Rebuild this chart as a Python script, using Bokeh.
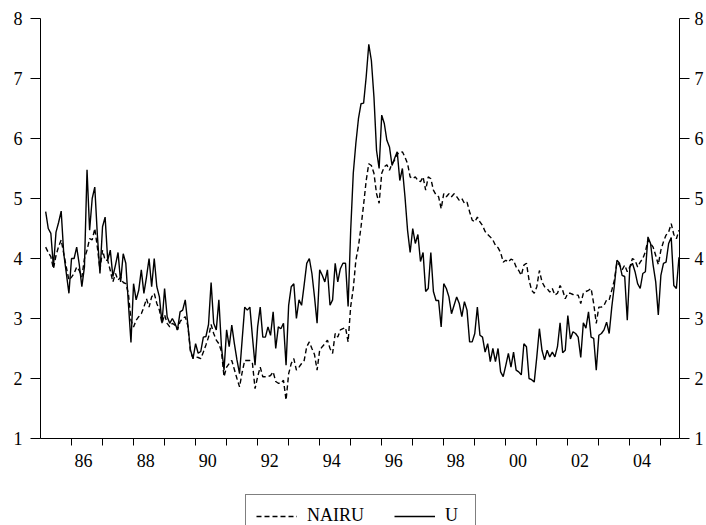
from bokeh.plotting import figure
from bokeh.layouts import column
from bokeh.models import Range1d, FixedTicker, LinearAxis, Legend, LegendItem, ColumnDataSource
from bokeh.embed import file_html
from bokeh.resources import INLINE

# ---- data (monthly, starting March 1985) ----
start_year = 1985
start_month = 3

u = [4.78, 4.5, 4.42, 3.86, 4.44, 4.6, 4.79, 4.08, 3.75, 3.42,
     4.0, 4.0, 4.19, 3.9, 3.53, 3.86, 5.48, 4.47, 5.0, 5.19,
     4.39, 3.75, 4.53, 4.69, 3.97, 4.14, 3.7, 3.89, 4.1, 3.61,
     4.08, 3.92, 3.25, 2.6, 3.58, 3.31, 3.47, 3.81, 3.42, 3.69,
     4.0, 3.53, 4.0, 3.53, 3.36, 2.92, 3.5, 3.03, 2.92, 3.0,
     2.92, 2.81, 3.11, 3.14, 3.31, 2.9, 2.48, 2.33, 2.58, 2.42,
     2.45, 2.69, 2.7, 2.9, 3.6, 2.92, 2.81, 3.31, 2.53, 2.14,
     2.81, 2.53, 2.89, 2.58, 2.31, 2.08, 2.64, 3.19, 3.14, 3.19,
     2.69, 2.22, 2.86, 3.19, 2.69, 2.69, 2.86, 2.72, 3.11, 2.5,
     2.86, 2.83, 2.92, 2.22, 3.22, 3.53, 3.58, 3.0, 3.31, 3.22,
     3.56, 3.92, 4.0, 3.75, 3.36, 2.92, 3.81, 3.72, 3.61, 3.81,
     3.22, 3.31, 3.92, 3.61, 3.83, 3.92, 3.92, 3.2, 4.47, 5.42,
     5.92, 6.33, 6.58, 6.59, 7.03, 7.57, 7.3, 6.69, 5.8, 5.5,
     6.39, 6.25, 5.97, 5.86, 5.55, 5.67, 5.78, 5.3, 5.5, 5.03,
     4.47, 4.1, 4.5, 4.25, 4.4, 3.95, 4.1, 3.45, 3.5, 4.1,
     3.45, 3.3, 3.3, 2.86, 3.58, 3.5, 3.36, 3.08, 3.22, 3.36,
     3.25, 3.03, 3.28, 3.14, 2.61, 2.61, 2.75, 3.19, 2.72, 2.69,
     2.44, 2.58, 2.28, 2.5, 2.28, 2.5, 2.11, 2.03, 2.22, 2.42,
     2.19, 2.44, 2.14, 2.11, 2.06, 2.58, 2.53, 2.0, 1.98, 1.94,
     2.36, 2.83, 2.47, 2.31, 2.47, 2.36, 2.44, 2.36, 2.53, 2.93,
     2.43, 2.47, 3.05, 2.66, 2.78, 2.75, 2.69, 2.35, 2.93, 2.84,
     3.11, 2.69, 2.67, 2.14, 2.72, 2.75, 2.81, 2.94, 2.75, 3.19,
     3.55, 3.97, 3.92, 3.72, 3.7, 2.97, 3.86, 3.92, 3.78, 3.58,
     3.5, 3.75, 3.78, 4.36, 4.25, 3.89, 3.61, 3.06, 3.72, 3.92,
     3.94, 4.25, 4.35, 3.55, 3.5, 4.02]

nairu = [4.19, 4.1, 4.03, 3.83, 4.05, 4.2, 4.31, 4.08, 3.85, 3.64,
         3.69, 3.75, 3.86, 3.8, 3.69, 4.0, 4.14, 4.33, 4.31, 4.5,
         4.19, 3.81, 4.14, 3.97, 3.97, 3.8, 3.61, 3.75, 3.64, 3.69,
         3.6, 3.58, 3.42, 2.97, 2.86, 2.97, 3.03, 3.08, 3.19, 3.33,
         3.19, 3.36, 3.42, 3.25, 3.14, 2.92, 3.06, 2.92, 2.86, 2.92,
         2.89, 2.81, 2.95, 3.0, 3.03, 2.88, 2.45, 2.34, 2.36, 2.35,
         2.33, 2.44, 2.56, 2.69, 2.9, 2.75, 2.64, 2.58, 2.45, 2.03,
         2.19, 2.25, 2.3, 2.15, 2.0, 1.86, 2.1, 2.3, 2.3, 2.3,
         2.25, 1.83, 2.03, 2.19, 2.03, 2.03, 2.03, 2.05, 2.11, 1.95,
         1.92, 1.92, 1.97, 1.64, 2.08, 2.25, 2.33, 2.14, 2.19, 2.25,
         2.3, 2.53, 2.61, 2.5, 2.4, 2.14, 2.47, 2.53, 2.58, 2.64,
         2.5, 2.42, 2.75, 2.69, 2.81, 2.83, 2.85, 2.61, 3.2, 3.5,
         3.97, 4.2, 4.53, 4.9, 5.3, 5.58, 5.55, 5.42, 5.08, 4.92,
         5.42, 5.53, 5.56, 5.47, 5.58, 5.64, 5.75, 5.75, 5.78, 5.69,
         5.58, 5.36, 5.33, 5.36, 5.3, 5.28, 5.36, 5.14, 5.36, 5.33,
         5.14, 5.06, 5.03, 4.83, 5.08, 5.03, 5.08, 5.03, 5.08, 5.03,
         4.97, 5.0, 4.92, 4.94, 4.78, 4.64, 4.61, 4.69, 4.61, 4.55,
         4.45, 4.4, 4.36, 4.31, 4.22, 4.18, 4.1, 3.94, 3.97, 3.94,
         3.99, 3.97, 3.86, 3.8, 3.72, 3.89, 3.92, 3.64, 3.47, 3.42,
         3.53, 3.8, 3.61, 3.53, 3.5, 3.44, 3.5, 3.39, 3.42, 3.55,
         3.47, 3.33, 3.42, 3.42, 3.4, 3.39, 3.39, 3.25, 3.42, 3.45,
         3.47, 3.5, 3.25, 2.92, 3.19, 3.19, 3.22, 3.31, 3.31, 3.47,
         3.64, 3.94, 3.89, 3.81, 3.89, 3.78, 3.86, 4.0, 3.97, 3.86,
         3.94, 4.0, 4.11, 4.31, 4.25, 4.19, 4.05, 3.9, 4.14, 4.28,
         4.39, 4.44, 4.58, 4.4, 4.33, 4.47]

series_names = ["NAIRU", "U"]
year_ticks = list(range(1986, 2006))
label_years = [1986, 1988, 1990, 1992, 1994, 1996, 1998, 2000, 2002, 2004]
label_texts = ["86", "88", "90", "92", "94", "96", "98", "00", "02", "04"]
y_ticks = [1, 2, 3, 4, 5, 6, 7, 8]

# ---- build ----
n = min(len(u), len(nairu))
x = [start_year + (start_month - 1 + k) / 12.0 for k in range(n)]
src = ColumnDataSource(dict(x=x, u=u[:n], nairu=nairu[:n]))

FONT = "Liberation Serif"
FS = "18px"
DASH = "5 3"
LW = 1.4

p = figure(width=706, height=480, output_backend="svg", toolbar_location=None,
           x_range=Range1d(1985.0, 2005.6), y_range=Range1d(1, 8),
           min_border_left=40, min_border_right=26, min_border_top=18,
           min_border_bottom=42, x_axis_location=None, y_axis_location=None)
p.outline_line_color = None
p.xgrid.visible = False
p.ygrid.visible = False

p.line("x", "nairu", source=src, line_color="black", line_width=LW, line_dash=DASH)
p.line("x", "u", source=src, line_color="black", line_width=LW)

# x axis: minor ticks at year starts, labels mid-year
label_pos = [yr + 0.39 for yr in label_years]
xax = LinearAxis(ticker=FixedTicker(ticks=label_pos, minor_ticks=year_ticks))
xax.major_label_overrides = {pos: t for pos, t in zip(label_pos, label_texts)}
xax.major_tick_out = 0
xax.major_tick_in = 0
xax.minor_tick_out = 7
xax.minor_tick_in = 0
xax.minor_tick_line_color = "black"
xax.axis_line_color = "black"
xax.major_label_standoff = 8
xax.major_label_text_font = FONT
xax.major_label_text_font_size = FS
xax.major_label_text_color = "black"
p.add_layout(xax, "below")

for side, standoff in (("left", 8), ("right", 5)):
    ax = LinearAxis(ticker=FixedTicker(ticks=y_ticks))
    ax.major_tick_out = 10
    ax.major_tick_in = 0
    ax.minor_tick_out = 0
    ax.minor_tick_in = 0
    ax.major_tick_line_color = "black"
    ax.axis_line_color = "black"
    ax.major_label_standoff = standoff
    ax.major_label_text_font = FONT
    ax.major_label_text_font_size = FS
    ax.major_label_text_color = "black"
    p.add_layout(ax, side)

# ---- legend strip below the chart (same series, kept outside its visible range) ----
p2 = figure(width=706, height=45, output_backend="svg", toolbar_location=None,
            x_range=Range1d(1985.0, 2005.6), y_range=Range1d(-3, -2),
            min_border=0, x_axis_location=None, y_axis_location=None)
p2.outline_line_color = None
p2.xgrid.visible = False
p2.ygrid.visible = False
g_n = p2.line("x", "nairu", source=src, line_color="black", line_width=LW, line_dash=DASH)
g_u = p2.line("x", "u", source=src, line_color="black", line_width=LW)

legend = Legend(items=[LegendItem(label=series_names[0], renderers=[g_n]),
                       LegendItem(label=series_names[1], renderers=[g_u])],
                orientation="horizontal", location=(205, -12))
legend.border_line_color = "black"
legend.border_line_width = 1
legend.background_fill_alpha = 1
legend.label_text_font = FONT
legend.label_text_font_size = FS
legend.label_text_font_style = "normal"
legend.label_text_color = "black"
legend.glyph_width = 41
legend.label_standoff = 10
legend.spacing = 30
legend.padding = 10
legend.margin = 0
p2.add_layout(legend, "center")

layout = column(p, p2, spacing=0)
open("out.html", "w").write(file_html(layout, INLINE))
